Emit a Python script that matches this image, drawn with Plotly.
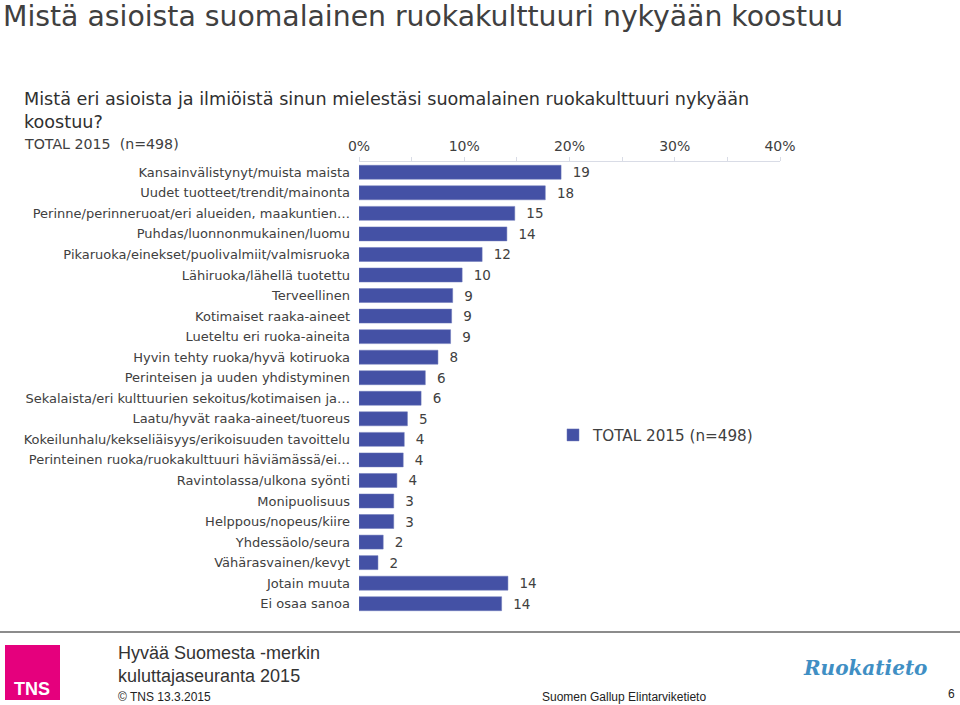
import plotly.graph_objects as go

categories = [
    "Kansainvälistynyt/muista maista",
    "Uudet tuotteet/trendit/mainonta",
    "Perinne/perinneruoat/eri alueiden, maakuntien…",
    "Puhdas/luonnonmukainen/luomu",
    "Pikaruoka/einekset/puolivalmiit/valmisruoka",
    "Lähiruoka/lähellä tuotettu",
    "Terveellinen",
    "Kotimaiset raaka-aineet",
    "Lueteltu eri ruoka-aineita",
    "Hyvin tehty ruoka/hyvä kotiruoka",
    "Perinteisen ja uuden yhdistyminen",
    "Sekalaista/eri kulttuurien sekoitus/kotimaisen ja…",
    "Laatu/hyvät raaka-aineet/tuoreus",
    "Kokeilunhalu/kekseliäisyys/erikoisuuden tavoittelu",
    "Perinteinen ruoka/ruokakulttuuri häviämässä/ei…",
    "Ravintolassa/ulkona syönti",
    "Monipuolisuus",
    "Helppous/nopeus/kiire",
    "Yhdessäolo/seura",
    "Vähärasvainen/kevyt",
    "Jotain muuta",
    "Ei osaa sanoa",
]
values = [19.2, 17.7, 14.8, 14.05, 11.7, 9.8, 8.9, 8.8, 8.7, 7.5, 6.3, 5.9,
          4.6, 4.3, 4.2, 3.6, 3.3, 3.3, 2.3, 1.8, 14.15, 13.55]
value_labels = ["19", "18", "15", "14", "12", "10", "9", "9", "9", "8", "6", "6",
                "5", "4", "4", "4", "3", "3", "2", "2", "14", "14"]
x_ticks = [0, 10, 20, 30, 40]
x_tick_labels = ["0%", "10%", "20%", "30%", "40%"]
series_name = "TOTAL 2015 (n=498)"

FONT = "DejaVu Sans"
GREY = "#404040"
BAR = "#4451A5"

# plot area in pixels
L, R, T, B = 359, 780, 162, 614
W, H = 960, 705


def px(xp):
    return (xp - L) / (R - L)


def py(yp):
    return (B - yp) / (B - T)


fig = go.Figure()
fig.add_trace(go.Bar(
    x=values, y=categories, orientation="h", name=series_name,
    marker=dict(color=BAR, line=dict(color="#6b76b8", width=0.5)),
    width=0.68,
    text=["  " + v for v in value_labels], textposition="outside",
    constraintext="none",
    textfont=dict(family=FONT, size=13.5, color=GREY),
    cliponaxis=False, hoverinfo="x+y",
))

annotations = [
    dict(text="Mistä asioista suomalainen ruokakulttuuri nykyään koostuu",
         x=px(1), y=py(16), xanchor="left", yanchor="middle",
         font=dict(family=FONT, size=28.3, color=GREY)),
    dict(text="Mistä eri asioista ja ilmiöistä sinun mielestäsi suomalainen ruokakulttuuri nykyään<br>koostuu?",
         x=px(22), y=py(110), xanchor="left", yanchor="middle", align="left",
         font=dict(family=FONT, size=17.6, color="#303030")),
    dict(text="TOTAL 2015  (n=498)",
         x=px(22), y=py(144), xanchor="left", yanchor="middle",
         font=dict(family=FONT, size=14.2, color=GREY)),
    dict(text="Hyvää Suomesta -merkin<br>kuluttajaseuranta 2015",
         x=px(116), y=py(664), xanchor="left", yanchor="middle", align="left",
         font=dict(family="Liberation Sans Narrow, Liberation Sans", size=18, color="#333333")),
    dict(text="© TNS 13.3.2015",
         x=px(116), y=py(697), xanchor="left", yanchor="middle",
         font=dict(family="Liberation Sans Narrow, Liberation Sans", size=12, color="#222222")),
    dict(text="Suomen Gallup Elintarviketieto",
         x=px(540), y=py(697), xanchor="left", yanchor="middle",
         font=dict(family="Liberation Sans Narrow, Liberation Sans", size=12, color="#222222")),
    dict(text="6",
         x=px(957), y=py(694), xanchor="right", yanchor="middle",
         font=dict(family="Liberation Sans", size=12, color="#222222")),
    dict(text="<b><i>Ruokatieto</i></b>",
         x=px(865), y=py(668), xanchor="center", yanchor="middle",
         font=dict(family="DejaVu Serif", size=20, color="#3f8fc4")),
    dict(text="<b>TNS</b>",
         x=px(32), y=py(689), xanchor="center", yanchor="middle",
         font=dict(family="Liberation Sans Narrow, Liberation Sans", size=18, color="white")),
]
for a in annotations:
    a.update(xref="paper", yref="paper", showarrow=False)

shapes = [
    dict(type="line", xref="paper", yref="paper", x0=px(0), x1=px(960),
         y0=py(632), y1=py(632), line=dict(color="#8c8c8c", width=2)),
    dict(type="rect", xref="paper", yref="paper", x0=px(5), x1=px(60),
         y0=py(645), y1=py(700), fillcolor="#e5007d", line=dict(width=0)),
]

fig.update_layout(
    width=W, height=H,
    margin=dict(l=L, r=W - R, t=T, b=H - B, pad=0),
    paper_bgcolor="white", plot_bgcolor="white",
    font=dict(family=FONT, size=13, color=GREY),
    showlegend=True,
    legend=dict(x=px(553), y=py(435), xanchor="left", yanchor="middle",
                font=dict(family=FONT, size=15.2, color=GREY),
                itemwidth=30, bgcolor="rgba(0,0,0,0)"),
    xaxis=dict(side="top", range=[0, 40], tickvals=x_ticks, ticktext=x_tick_labels,
               showgrid=False, zeroline=False, showline=True, linecolor="#d9dce6", linewidth=1,
               ticks="outside", ticklen=4, tickcolor="#d9dce6",
               minor=dict(dtick=5, ticks="outside", ticklen=4, tickcolor="#d9dce6"),
               tickfont=dict(family=FONT, size=14, color=GREY)),
    yaxis=dict(categoryorder="array", categoryarray=categories, autorange="reversed",
               showgrid=False, zeroline=False, showline=False, ticks="",
               ticklabelstandoff=8,
               tickfont=dict(family=FONT, size=13, color=GREY)),
    annotations=annotations, shapes=shapes,
    bargap=0.32,
)

fig.write_html("out.html", config={"displayModeBar": False},
               post_script="document.body.style.margin='0';document.body.style.overflow='hidden';")
